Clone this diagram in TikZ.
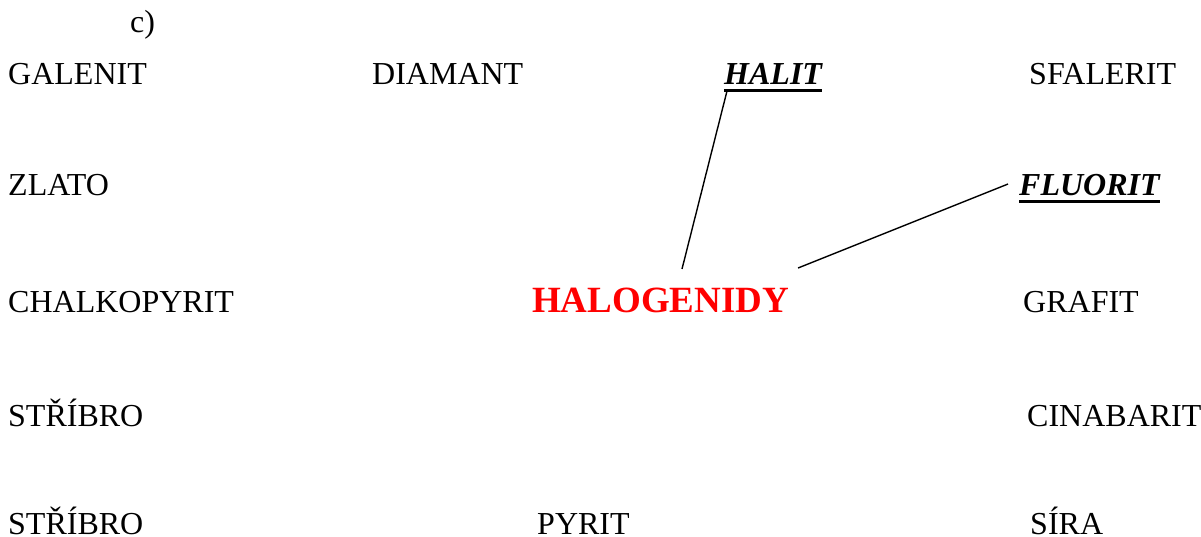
\documentclass[tikz,border=0pt]{standalone}
\usepackage{fontspec}
\setmainfont{Liberation Serif}
\begin{document}
\begin{tikzpicture}[x=1pt,y=-1pt,
  word/.style={anchor=base west,inner sep=0pt,font=\fontsize{32}{38}\selectfont},
  chosen/.style={word,font=\fontsize{32}{38}\selectfont\bfseries\itshape},
  head/.style={anchor=base west,inner sep=0pt,text=red,font=\fontsize{37}{44}\selectfont\bfseries},
  link/.style={line width=1.4pt},
  rule/.style={line width=3pt}]
\useasboundingbox (0,0) rectangle (1201,537);
\node[word] (lbl) at (130,33) {c)};
% row 1
\node[word] (galenit) at (8,85) {GALENIT};
\node[word] (diamant) at (372,85) {DIAMANT};
\node[chosen] (halit) at (724,85) {HALIT};
\node[word] (sfalerit) at (1029,85) {SFALERIT};
% row 2
\node[word] (zlato) at (8,196) {ZLATO};
\node[chosen] (fluorit) at (1019,196) {FLUORIT};
% row 3
\node[word] (chalko) at (8,312) {CHALKOPYRIT};
\node[head] (halog) at (532,312) {HALOGENIDY};
\node[word] (grafit) at (1023,312) {GRAFIT};
% row 4
\node[word] (stribroA) at (8,426) {STŘÍBRO};
\node[word] (cinabarit) at (1027,426) {CINABARIT};
% row 5
\node[word] (stribroB) at (8,534) {STŘÍBRO};
\node[word] (pyrit) at (537,534) {PYRIT};
\node[word] (sira) at (1030,534) {SÍRA};
% underlines of the chosen names
\draw[rule] ([yshift=-6pt]halit.base west) coordinate (hu) -- ([yshift=-6pt]halit.base east);
\draw[rule] ([yshift=-6pt]fluorit.base west) -- ([yshift=-6pt]fluorit.base east);
% connectors from the group name
\coordinate (hl) at (682,269);
\coordinate (fl) at (798,268);
\coordinate (fu) at (1008,184);
\draw[link] (hl) -- ([xshift=3pt]hu);
\draw[link] (fl) -- (fu);
\end{tikzpicture}
\end{document}
